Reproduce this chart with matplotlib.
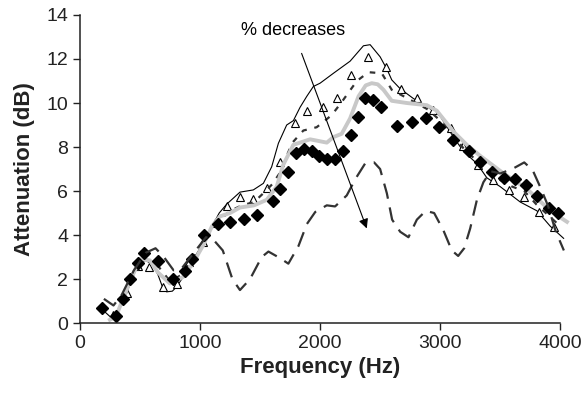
import numpy as np
import matplotlib.pyplot as plt

plt.rcParams['font.family'] = ['Liberation Sans', 'DejaVu Sans']

# thin solid line (top)
thin_f = [200, 250, 290, 361, 420, 472, 542, 600, 650, 694, 722, 770, 806, 860, 917, 1000,
          1060, 1111, 1160, 1222, 1333, 1444, 1528, 1597, 1653, 1722, 1778, 1833, 1889, 1944,
          2000, 2111, 2250, 2361, 2417, 2500, 2560, 2597, 2667, 2778, 2889, 3000, 3111, 3194,
          3306, 3389, 3500, 3667, 3806, 3917, 4028]
thin_v = [0.55, 0.3, 0.2, 1.0, 1.8, 2.5, 2.85, 2.7, 2.2, 1.55, 1.42, 1.45, 1.65, 2.1, 2.64, 3.4,
          4.0, 4.5, 5.0, 5.4, 5.95, 6.05, 6.35, 7.1, 8.17, 9.0, 9.2, 9.8, 10.3, 10.75,
          10.9, 11.35, 11.9, 12.6, 12.65, 12.1, 11.5, 11.05, 10.65, 10.2, 9.85, 9.4, 8.45, 7.8,
          7.25, 6.6, 6.2, 5.5, 5.1, 4.4, 3.85]

# open triangles
tri_f = [280, 389, 481, 578, 694, 811, 911, 1028, 1125, 1228, 1333, 1439, 1556, 1670, 1795,
         1892, 2022, 2144, 2258, 2397, 2550, 2675, 2806, 2944, 3089, 3194, 3319, 3444, 3569,
         3694, 3819, 3944]
tri_v = [0.35, 1.38, 2.59, 2.56, 1.62, 1.77, 2.79, 3.7, 4.53, 5.3, 5.72, 5.63, 6.15, 7.3, 9.1,
         9.65, 9.8, 10.24, 11.27, 12.1, 11.65, 10.62, 10.21, 9.68, 8.88, 8.06, 7.2, 6.5, 6.05,
         5.74, 5.06, 4.38]

# short dashed line
sd_f = [200, 280, 350, 450, 550, 650, 750, 850, 950, 1050, 1150, 1250, 1350, 1450, 1528, 1600,
        1681, 1722, 1770, 1861, 1972, 2097, 2181, 2306, 2403, 2514, 2597, 2681, 2800, 2900, 3000,
        3100, 3200, 3300, 3400, 3500, 3600, 3700, 3800, 3900, 4000]
sd_v = [0.8, 0.3, 0.9, 2.2, 2.9, 2.6, 1.9, 2.2, 3.0, 3.9, 4.6, 5.1, 5.35, 5.5, 5.9, 6.3,
        6.95, 7.6, 8.2, 8.75, 8.9, 9.45, 10.05, 11.0, 11.4, 11.35, 10.6, 10.35, 10.0, 9.7, 9.2,
        8.6, 7.9, 7.4, 6.9, 6.5, 6.2, 6.0, 5.4, 4.9, 4.4]

# thick grey line
grey_f = [250, 300, 389, 450, 500, 583, 650, 750, 861, 950, 1028, 1100, 1167, 1250, 1333, 1450,
          1556, 1639, 1694, 1778, 1917, 2056, 2111, 2180, 2250, 2320, 2380, 2430, 2480, 2528,
          2597, 2722, 2889, 2972, 3111, 3222, 3333, 3528, 3722, 3917, 4056]
grey_v = [0.15, 0.3, 1.5, 2.3, 2.9, 2.85, 2.3, 1.8, 2.1, 2.8, 3.55, 4.4, 4.85, 5.0, 5.25, 5.35,
          5.6, 6.2, 7.2, 8.1, 8.35, 8.2, 8.45, 8.6, 9.3, 10.3, 10.8, 10.9, 10.85, 10.6,
          10.1, 10.0, 9.9, 9.65, 8.7, 8.1, 7.6, 6.8, 6.1, 5.1, 4.6]

# black diamonds
dia_f = [181, 300, 361, 417, 486, 536, 653, 772, 875, 936, 1033, 1153, 1250, 1369, 1478, 1606,
         1667, 1731, 1800, 1869, 1936, 1994, 2056, 2125, 2189, 2258, 2319, 2375, 2444, 2506,
         2639, 2764, 2883, 2990, 3111, 3236, 3333, 3431, 3528, 3625, 3717, 3806, 3903, 3981]
dia_v = [0.67, 0.33, 1.08, 1.99, 2.71, 3.17, 2.83, 2.01, 2.38, 2.92, 4.01, 4.5, 4.6, 4.71, 4.91,
         5.56, 6.09, 6.85, 7.71, 7.92, 7.82, 7.6, 7.44, 7.44, 7.83, 8.55, 9.35, 10.21, 10.14, 9.8,
         8.97, 9.15, 9.3, 8.92, 8.33, 7.83, 7.33, 6.88, 6.58, 6.53, 6.27, 5.77, 5.21, 4.99]

# long dashed line (bottom)
ld_f = [200, 280, 350, 450, 550, 630, 700, 780, 850, 950, 1050, 1110, 1190, 1270, 1333, 1417,
        1514, 1570, 1667, 1736, 1820, 1890, 1960, 2056, 2125, 2222, 2300, 2375, 2450, 2500, 2556,
        2600, 2667, 2736, 2806, 2880, 2950, 3028, 3097, 3150, 3200, 3250, 3306, 3360, 3420, 3500,
        3600, 3700, 3770, 3840, 3900, 3960, 4030]
ld_v = [1.1, 0.8, 1.3, 2.4, 3.2, 3.4, 3.0, 2.4, 2.5, 3.2, 3.9, 3.8, 3.3, 2.0, 1.5, 2.0,
        3.0, 3.25, 2.95, 2.7, 3.5, 4.5, 5.05, 5.35, 5.3, 5.8, 6.6, 7.25, 7.3, 7.0, 5.9,
        4.7, 4.15, 3.9, 4.7, 5.1, 5.0, 4.2, 3.3, 3.05, 3.4, 4.3, 5.6, 6.4, 6.9, 6.8,
        7.0, 7.3, 6.95, 6.1, 5.3, 4.2, 3.3]

fig = plt.figure(figsize=(5.83, 3.94), dpi=100)
ax = fig.add_axes([0.137, 0.180, 0.824, 0.782])

ax.plot(thin_f, thin_v, color='black', lw=0.8, clip_on=False)
ax.plot(tri_f, tri_v, ls='none', marker='^', ms=6, mfc='white', mec='black', mew=0.8, clip_on=False)
ax.plot(sd_f, sd_v, color='#333333', lw=1.6, dashes=(2.5, 3.5), clip_on=False)
ax.plot(grey_f, grey_v, color='#c8c8c8', lw=2.8, clip_on=False)
ax.plot(dia_f, dia_v, ls='none', marker='D', ms=5.8, color='black', clip_on=False)
ax.plot(ld_f, ld_v, color='#333333', lw=1.6, dashes=(7, 4), clip_on=False)

ax.annotate('% decreases', xy=(2389, 4.3), xytext=(1775, 13.3), ha='center', va='center',
            fontsize=13, arrowprops=dict(arrowstyle='-|>', color='black', lw=0.8,
                                         shrinkA=9, shrinkB=0, mutation_scale=14))

ax.set_xlim(0, 4000)
ax.set_ylim(0, 14)
ax.set_xticks([0, 1000, 2000, 3000, 4000])
ax.set_yticks(np.arange(0, 15, 2))
ax.tick_params(labelsize=14, length=5, width=1, direction='out', colors='#222222')
ax.spines['top'].set_visible(False)
ax.spines['right'].set_visible(False)
for s in ['left', 'bottom']:
    ax.spines[s].set_linewidth(1.1)
    ax.spines[s].set_color('#222222')

ax.set_xlabel('Frequency (Hz)', fontsize=16, fontweight='bold', color='#222222', labelpad=4)
ax.set_ylabel('Attenuation (dB)', fontsize=16, fontweight='bold', color='#222222', labelpad=8)

fig.savefig('out.png', dpi=100)
